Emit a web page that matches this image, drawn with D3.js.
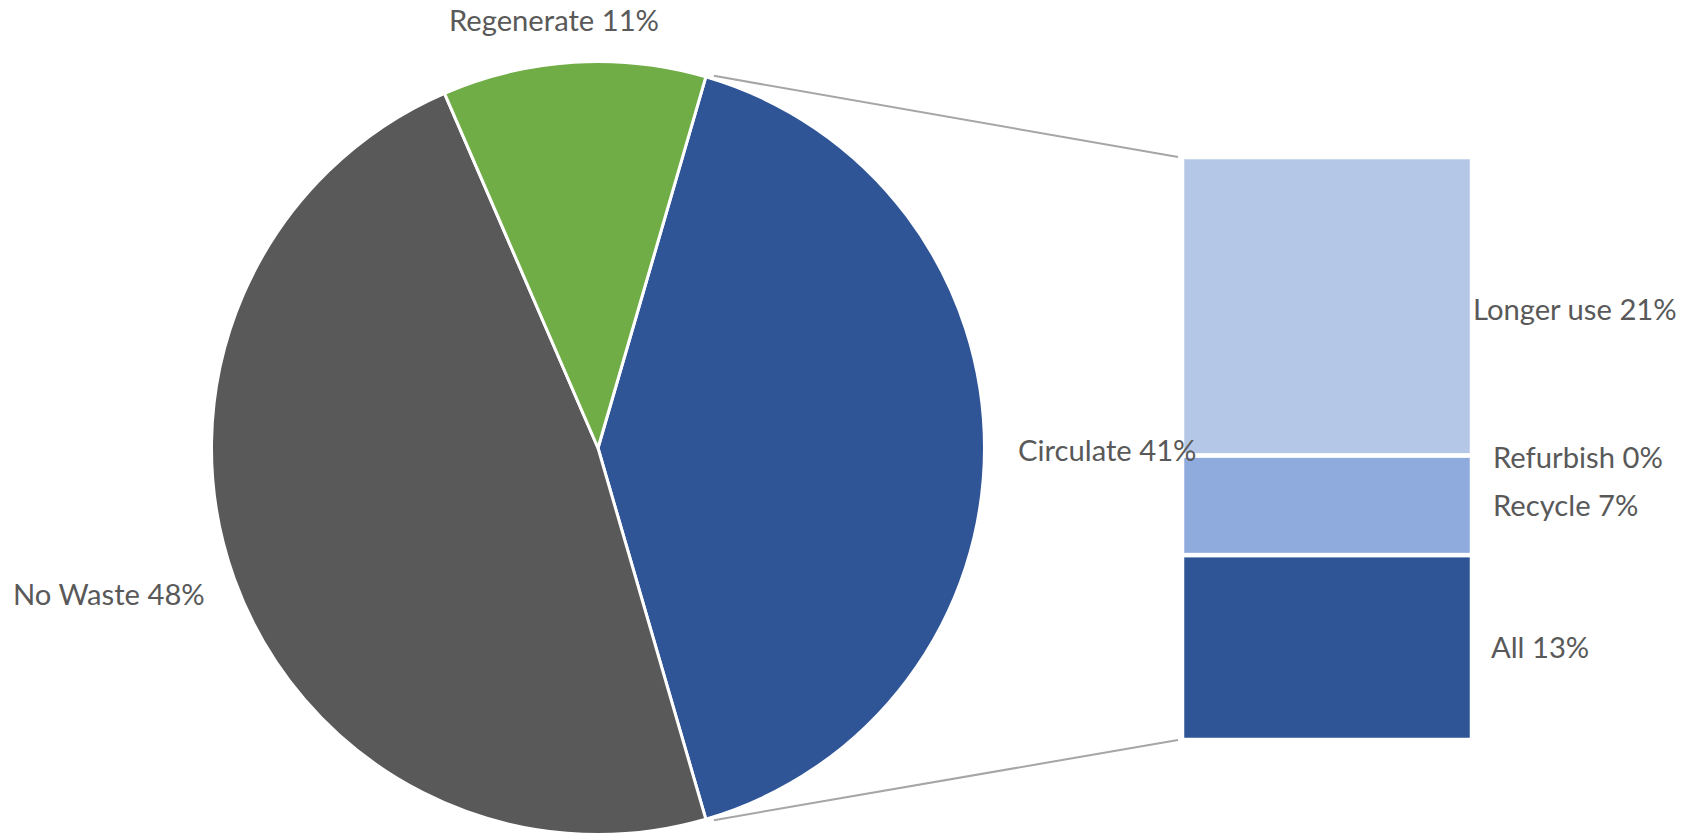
<!DOCTYPE html>
<html>
<head>
<meta charset="utf-8">
<script src="https://cdn.jsdelivr.net/npm/d3@7/dist/d3.min.js"></script>
<style>
  html, body { margin: 0; padding: 0; background: #ffffff; }
  svg { display: block; }
  text { font-family: Lato, "Open Sans", sans-serif; fill: #595959; }
</style>
</head>
<body>
<svg id="chart" width="1700" height="837"></svg>
<script>
// Main pie: share of each approach (percent)
const pieNames  = ["Circulate", "No Waste", "Regenerate"];
const pieValues = [41, 48, 11];
const pieColors = ["#2f5597", "#595959", "#70ad47"];

// Breakdown of "Circulate" shown in the stacked bar, top to bottom (percent)
const barNames  = ["Longer use", "Refurbish", "Recycle", "All"];
const barValues = [21, 0, 7, 13];
const barColors = ["#b4c7e7", "#a9c0e4", "#8faadc", "#2f5597"];

const svg = d3.select("#chart");

// ---- pie geometry ----
const cx = 598, cy = 448, R = 386.5;
const total = d3.sum(pieValues);
const circShare = pieValues[0] / total;
// centre the "Circulate" slice on the right-hand side
const start = Math.PI / 2 - circShare * Math.PI;

const pieData = pieNames.map((n, i) => ({ name: n, value: pieValues[i], color: pieColors[i] }));
const pie = d3.pie().sort(null).value(d => d.value)
  .startAngle(start).endAngle(start + 2 * Math.PI);
const arcs = pie(pieData);
const arc = d3.arc().innerRadius(0).outerRadius(R);

const gPie = svg.append("g").attr("transform", `translate(${cx},${cy})`);
gPie.selectAll("path").data(arcs).join("path")
  .attr("d", arc)
  .attr("fill", d => d.data.color)
  .attr("stroke", "#ffffff")
  .attr("stroke-width", 3)
  .attr("stroke-linejoin", "round");

// ---- stacked bar ----
const barX0 = 1182, barX1 = 1472, barTop = 157, barBottom = 740;
const barTotal = d3.sum(barValues);
const y = d3.scaleLinear().domain([0, barTotal]).range([barTop, barBottom]);
let acc = 0;
const barData = barNames.map((n, i) => {
  const d = { name: n, value: barValues[i], color: barColors[i], y0: acc, y1: acc + barValues[i] };
  acc += barValues[i];
  return d;
});

svg.append("g").selectAll("rect").data(barData.filter(d => d.value > 0)).join("rect")
  .attr("x", barX0)
  .attr("width", barX1 - barX0)
  .attr("y", d => y(d.y0))
  .attr("height", d => y(d.y1) - y(d.y0))
  .attr("fill", d => d.color)
  .attr("stroke", "#ffffff")
  .attr("stroke-width", 4.5);

// ---- connector lines from the Circulate slice to the bar ----
const circArc = arcs[0];
const edgePt = a => [cx + R * Math.sin(a), cy - R * Math.cos(a)];
const pTop = edgePt(circArc.startAngle);
const pBot = edgePt(circArc.endAngle);
const gLines = svg.append("g").attr("stroke", "#a6a6a6").attr("stroke-width", 2).attr("fill", "none");
gLines.append("line")
  .attr("x1", pTop[0] + 8).attr("y1", pTop[1] - 1)
  .attr("x2", barX0 - 4).attr("y2", y(0));
gLines.append("line")
  .attr("x1", pBot[0] + 8).attr("y1", pBot[1] + 1)
  .attr("x2", barX0 - 4).attr("y2", y(barTotal));

// ---- labels ----
const fontSize = 29.2;
const fmt = v => `${v}%`;

// pie labels (placed around the pie)
const pieLabelPos = {
  "Regenerate": { x: 554, y: 31, anchor: "middle" },
  "No Waste":   { x: 13,  y: 605, anchor: "start" },
  "Circulate":  { x: 1018, y: 461, anchor: "start" }
};
svg.append("g").selectAll("text").data(pieData).join("text")
  .attr("x", d => pieLabelPos[d.name].x)
  .attr("y", d => pieLabelPos[d.name].y)
  .attr("text-anchor", d => pieLabelPos[d.name].anchor)
  .attr("font-size", fontSize)
  .text(d => `${d.name} ${fmt(d.value)}`);

// bar labels, to the right of the bar
const barLabelPos = {
  "Longer use": { dx: 1,  y: 320 },
  "Refurbish":  { dx: 21, y: 468 },
  "Recycle":    { dx: 21, y: 516 },
  "All":        { dx: 19, y: 658 }
};
svg.append("g").selectAll("text").data(barData).join("text")
  .attr("x", d => barX1 + barLabelPos[d.name].dx)
  .attr("y", d => barLabelPos[d.name].y)
  .attr("font-size", fontSize)
  .text(d => `${d.name} ${fmt(d.value)}`);
</script>
</body>
</html>
